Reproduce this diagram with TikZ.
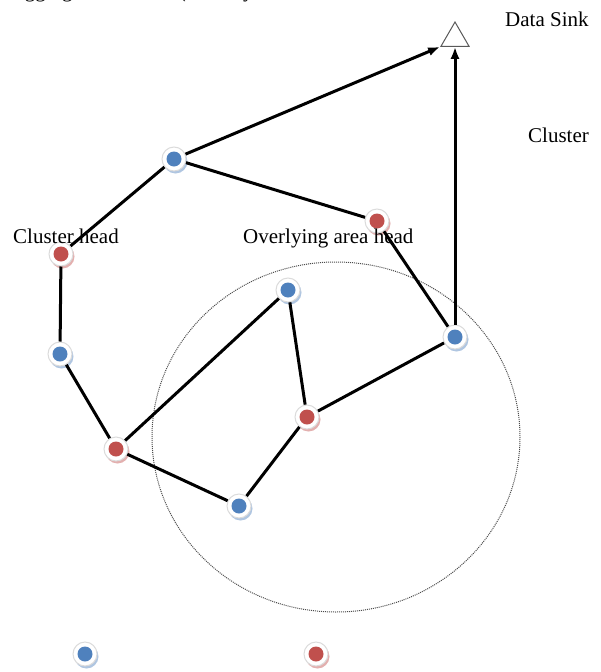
\documentclass[tikz,border=0pt]{standalone}
\usepackage{fontspec}
\setmainfont{Liberation Serif}
\usetikzlibrary{shadows,shapes.geometric,arrows.meta}
\definecolor{nblue}{HTML}{4F81BD}
\definecolor{nred}{HTML}{C0504D}
\tikzset{
  sensor/.style={circle, minimum size=24pt, inner sep=0pt, fill=white, draw=gray!28, line width=1pt,
    drop shadow={shadow xshift=1.5pt, shadow yshift=-2.5pt, fill=#1!45, opacity=1},
    path picture={\fill[#1] (path picture bounding box.center) circle (7.5pt);}},
  bnode/.style={sensor=nblue},
  rnode/.style={sensor=nred},
  link/.style={line width=3pt, black},
  uplink/.style={line width=3pt, black, -{Latex[length=12pt,width=9pt]}},
  lbl/.style={inner sep=0pt, anchor=base west, font=\fontsize{21}{25}\selectfont}
}
\begin{document}
\begin{tikzpicture}[x=1pt,y=-1pt]
\useasboundingbox (0,0) rectangle (600,672);
\begin{scope}
  \clip (0,0) rectangle (600,20);
  \node[lbl] (cut) at (4,-2.5) {Tagging mechanism (Overlay};
\end{scope}
% cluster ellipse
\draw[gray!60!black, line width=1pt, dash pattern=on 1pt off 1pt] (336,437) ellipse [x radius=184, y radius=175];
% sink
\node[regular polygon, regular polygon sides=3, minimum size=32.4pt, inner sep=0pt, draw=gray!70!black, line width=1pt, fill=white] (sink) at (455,38.2) {};
% labels
\node[lbl] (lsink) at (505,26) {Data Sink};
\node[lbl] (lcluster) at (528,142) {Cluster};
% nodes
\node[bnode] (n1) at (174,159) {};
\node[rnode] (n2) at (377,221) {};
\node[rnode] (n3) at (61,254) {};
\node[bnode] (n4) at (288,290) {};
\node[bnode] (n5) at (455,337) {};
\node[bnode] (n6) at (60,354) {};
\node[rnode] (n7) at (307,417) {};
\node[rnode] (n8) at (116,449) {};
\node[bnode] (n9) at (239,506) {};
\node[bnode] (lb) at (85,654) {};
\node[rnode] (lr) at (316,654) {};
% links
\draw[link] (n1) -- (n3);
\draw[link] (n1) -- (n2);
\draw[link] (n2) -- (n5);
\draw[link] (n3) -- (n6);
\draw[link] (n6) -- (n8);
\draw[link] (n8) -- (n4);
\draw[link] (n8) -- (n9);
\draw[link] (n9) -- (n7);
\draw[link] (n7) -- (n4);
\draw[link] (n7) -- (n5);
\draw[uplink] (n1) -- (sink.corner 2);
\draw[uplink] (n5) -- (sink);
% labels over lines
\node[lbl] (lch) at (13,243) {Cluster head};
\node[lbl] (loh) at (243,243) {Overlying area head};
\end{tikzpicture}
\end{document}
